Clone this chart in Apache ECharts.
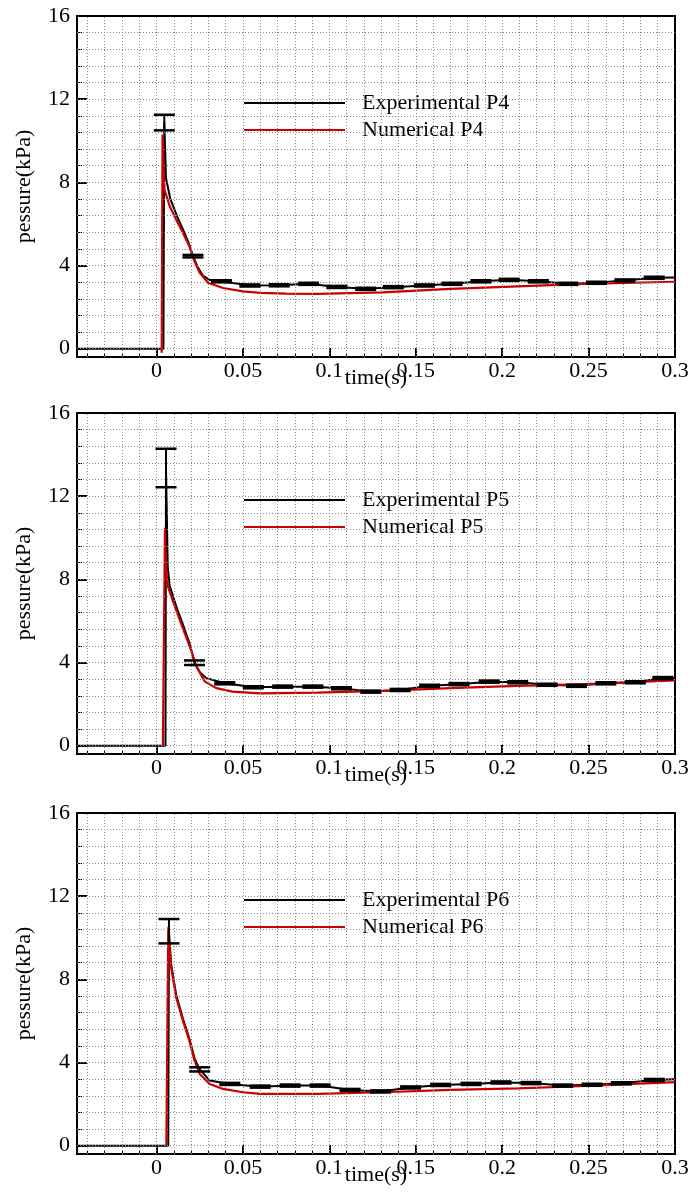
<!DOCTYPE html>
<html><head><meta charset="utf-8">
<script src="https://cdn.jsdelivr.net/npm/echarts@6/dist/echarts.min.js"></script>
<style>html,body{margin:0;padding:0;background:#fff}#c{width:693px;height:1192px}</style>
</head><body><div id="c"></div>
<script>
// ---------- axis / tick data ----------
const xMajor = [0, 0.05, 0.1, 0.15, 0.2, 0.25, 0.3];
const xMajorLabels = ['0', '0.05', '0.1', '0.15', '0.2', '0.25', '0.3'];
const yMajor = [0, 4, 8, 12, 16];
const yMajorLabels = ['0', '4', '8', '12', '16'];
const xGrid = [-0.04, -0.03, -0.02, -0.01, 0, 0.01, 0.02, 0.03, 0.04, 0.05, 0.06, 0.07, 0.08, 0.09, 0.1,
  0.11, 0.12, 0.13, 0.14, 0.15, 0.16, 0.17, 0.18, 0.19, 0.2, 0.21, 0.22, 0.23, 0.24, 0.25, 0.26, 0.27, 0.28, 0.29];
const yGrid = [0, 0.8, 1.6, 2.4, 3.2, 4, 4.8, 5.6, 6.4, 7.2, 8, 8.8, 9.6, 10.4, 11.2, 12, 12.8, 13.6, 14.4, 15.2];
const panelNames = ['P4', 'P5', 'P6'];

// ---------- P4 ----------
const p4ExpT = [-0.046, 0.0040, 0.0045, 0.0055, 0.008, 0.012, 0.016, 0.019, 0.0211, 0.024, 0.027, 0.031, 0.0376,
  0.054, 0.071, 0.088, 0.1044, 0.121, 0.137, 0.155, 0.171, 0.1877, 0.204, 0.221, 0.238, 0.2545, 0.271, 0.288, 0.3];
const p4ExpP = [0, 0, 10.9, 8.2, 7.2, 6.35, 5.6, 5.0, 4.45, 3.9, 3.5, 3.3, 3.24,
  3.04, 3.05, 3.12, 2.97, 2.88, 2.96, 3.04, 3.12, 3.24, 3.31, 3.24, 3.12, 3.17, 3.28, 3.41, 3.42];
const p4NumT = [0.0030, 0.0035, 0.0046, 0.0076, 0.0114, 0.0153, 0.019, 0.022, 0.025, 0.0298, 0.0385, 0.05, 0.06,
  0.075, 0.093, 0.131, 0.17, 0.209, 0.248, 0.3];
const p4NumP = [-0.2, 10.3, 7.66, 6.86, 6.2, 5.57, 4.93, 4.2, 3.65, 3.17, 2.92, 2.76, 2.68,
  2.65, 2.64, 2.71, 2.88, 3.0, 3.12, 3.22];
const p4ErrT = [0.0045, 0.0211, 0.0376, 0.054, 0.071, 0.088, 0.1044, 0.121, 0.137, 0.155, 0.171, 0.1877, 0.204, 0.221, 0.238, 0.2545, 0.271, 0.288];
const p4ErrLo = [10.5, 4.39, 3.19, 2.99, 3.0, 3.07, 2.92, 2.83, 2.91, 2.99, 3.07, 3.19, 3.26, 3.19, 3.07, 3.12, 3.23, 3.36];
const p4ErrHi = [11.25, 4.51, 3.29, 3.09, 3.1, 3.17, 3.02, 2.93, 3.01, 3.09, 3.17, 3.29, 3.36, 3.29, 3.17, 3.22, 3.33, 3.46];

// ---------- P5 ----------
const p5ExpT = [-0.046, 0.0052, 0.0055, 0.0065, 0.0076, 0.0114, 0.015, 0.019, 0.022, 0.025, 0.0288, 0.0395,
  0.056, 0.073, 0.0905, 0.107, 0.124, 0.141, 0.158, 0.175, 0.1925, 0.209, 0.226, 0.243, 0.26, 0.277, 0.293, 0.3];
const p5ExpP = [0, 0, 13.35, 8.6, 7.7, 6.7, 5.9, 4.95, 3.99, 3.55, 3.25, 3.0,
  2.81, 2.84, 2.84, 2.76, 2.6, 2.68, 2.88, 2.96, 3.08, 3.05, 2.93, 2.88, 3.0, 3.05, 3.25, 3.25];
const p5NumT = [0.0037, 0.0049, 0.0056, 0.0066, 0.0095, 0.015, 0.02, 0.023, 0.028, 0.0346, 0.044, 0.06,
  0.093, 0.131, 0.17, 0.209, 0.248, 0.3];
const p5NumP = [0, 10.48, 8.47, 7.66, 6.95, 5.7, 4.6, 3.81, 3.08, 2.77, 2.6, 2.52,
  2.55, 2.64, 2.77, 2.88, 2.96, 3.14];
const p5ErrT = [0.0055, 0.022, 0.0395, 0.056, 0.073, 0.0905, 0.107, 0.124, 0.141, 0.158, 0.175, 0.1925, 0.209, 0.226, 0.243, 0.26, 0.277, 0.293];
const p5ErrLo = [12.43, 3.88, 2.95, 2.76, 2.79, 2.79, 2.71, 2.55, 2.63, 2.83, 2.91, 3.03, 3.0, 2.88, 2.83, 2.95, 3.0, 3.2];
const p5ErrHi = [14.28, 4.1, 3.05, 2.86, 2.89, 2.89, 2.81, 2.65, 2.73, 2.93, 3.01, 3.13, 3.1, 2.98, 2.93, 3.05, 3.1, 3.3];

// ---------- P6 ----------
const p6ExpT = [-0.046, 0.0068, 0.0072, 0.0085, 0.0114, 0.0153, 0.019, 0.022, 0.025, 0.0308, 0.0424,
  0.06, 0.0773, 0.0947, 0.112, 0.1296, 0.147, 0.1644, 0.182, 0.1993, 0.2167, 0.235, 0.252, 0.269, 0.288, 0.3];
const p6ExpP = [0, 0, 10.3, 8.7, 7.25, 6.1, 5.15, 4.2, 3.67, 3.13, 2.97,
  2.84, 2.89, 2.89, 2.68, 2.61, 2.8, 2.92, 2.97, 3.04, 3.01, 2.89, 2.93, 3.0, 3.16, 3.2];
const p6NumT = [0.0057, 0.0068, 0.0075, 0.0085, 0.0114, 0.0153, 0.019, 0.022, 0.025, 0.0308, 0.0385, 0.05, 0.06,
  0.093, 0.131, 0.17, 0.209, 0.248, 0.3];
const p6NumP = [0, 10.5, 9.5, 8.57, 7.13, 6.0, 5.05, 4.09, 3.45, 2.97, 2.73, 2.57, 2.49,
  2.49, 2.57, 2.68, 2.76, 2.87, 3.06];
const p6ErrT = [0.0072, 0.025, 0.0424, 0.06, 0.0773, 0.0947, 0.112, 0.1296, 0.147, 0.1644, 0.182, 0.1993, 0.2167, 0.235, 0.252, 0.269, 0.288];
const p6ErrLo = [9.73, 3.57, 2.92, 2.79, 2.84, 2.84, 2.63, 2.56, 2.75, 2.87, 2.92, 2.99, 2.96, 2.84, 2.88, 2.95, 3.11];
const p6ErrHi = [10.9, 3.77, 3.02, 2.89, 2.94, 2.94, 2.73, 2.66, 2.85, 2.97, 3.02, 3.09, 3.06, 2.94, 2.98, 3.05, 3.21];

// ---------- chart construction ----------
const X_MIN = -0.046, X_MAX = 0.3, Y_MIN = -0.4, Y_MAX = 16;
const FONT = '"Liberation Serif", "Times New Roman", serif';
const tops = [16, 413, 813];
const panels = [
  {exp: [p4ExpT, p4ExpP], num: [p4NumT, p4NumP], err: [p4ErrT, p4ErrLo, p4ErrHi]},
  {exp: [p5ExpT, p5ExpP], num: [p5NumT, p5NumP], err: [p5ErrT, p5ErrLo, p5ErrHi]},
  {exp: [p6ExpT, p6ExpP], num: [p6NumT, p6NumP], err: [p6ErrT, p6ErrLo, p6ErrHi]}
];
const zip2 = (a, b) => a.map((v, i) => [v, b[i]]);
const zip3 = (a, b, c) => a.map((v, i) => [v, b[i], c[i]]);
const txt = {fontSize: 22, fontFamily: FONT, color: '#000'};

const grid = [], xAxis = [], yAxis = [], series = [], legend = [];
tops.forEach((top, i) => {
  grid.push({left: 77, width: 598, top: top, height: 341, show: true, borderColor: '#000', borderWidth: 2, backgroundColor: 'transparent'});
  xAxis.push({
    gridIndex: i, type: 'value', min: X_MIN, max: X_MAX, position: 'bottom',
    axisLine: {show: true, onZero: false, lineStyle: {color: '#000', width: 2}},
    axisTick: {show: true, inside: true, length: 9, customValues: xMajor, lineStyle: {color: '#000', width: 2}},
    axisLabel: Object.assign({customValues: xMajor, margin: 3,
      formatter: v => { const k = xMajor.findIndex(m => Math.abs(m - v) < 1e-9); return k >= 0 ? xMajorLabels[k] : ''; }}, txt),
    splitLine: {show: false},
    name: 'time(s)', nameLocation: 'middle', nameGap: 10, nameMoveOverlap: false, nameTextStyle: txt
  });
  xAxis.push({
    gridIndex: i, type: 'value', min: X_MIN, max: X_MAX, position: 'bottom', offset: 0,
    axisLine: {show: false, onZero: false},
    axisTick: {show: true, inside: true, length: 4, customValues: xGrid, lineStyle: {color: '#000', width: 1}},
    axisLabel: {show: false}, splitLine: {show: false}
  });
  yAxis.push({
    gridIndex: i, type: 'value', min: Y_MIN, max: Y_MAX, position: 'left',
    axisLine: {show: true, onZero: false, lineStyle: {color: '#000', width: 2}},
    axisTick: {show: true, inside: true, length: 10, customValues: yMajor, lineStyle: {color: '#000', width: 2}},
    axisLabel: Object.assign({customValues: yMajor, margin: 7,
      formatter: v => { const k = yMajor.findIndex(m => Math.abs(m - v) < 1e-9); return k >= 0 ? yMajorLabels[k] : ''; }}, txt),
    splitLine: {show: false},
    name: 'pessure(kPa)', nameLocation: 'middle', nameGap: 42, nameMoveOverlap: false, nameTextStyle: txt
  });
  yAxis.push({
    gridIndex: i, type: 'value', min: Y_MIN, max: Y_MAX, position: 'left', offset: 0,
    axisLine: {show: false, onZero: false},
    axisTick: {show: true, inside: true, length: 5, customValues: yGrid, lineStyle: {color: '#000', width: 1}},
    axisLabel: {show: false}, splitLine: {show: false}
  });

  const p = panels[i];
  const nm = panelNames[i];
  const xi = 2 * i, yi = 2 * i;
  // dotted grid
  series.push({
    type: 'line', name: 'grid' + i, xAxisIndex: xi, yAxisIndex: yi, data: [], silent: true, z: 1,
    markLine: {
      silent: true, symbol: ['none', 'none'], animation: false, label: {show: false},
      lineStyle: {color: '#8a8a8a', width: 1, type: [1, 2]},
      emphasis: {disabled: true},
      data: xGrid.map(v => ({xAxis: v})).concat(yGrid.map(v => ({yAxis: v})))
    }
  });
  series.push({
    type: 'line', name: 'Experimental ' + nm, xAxisIndex: xi, yAxisIndex: yi,
    data: zip2(p.exp[0], p.exp[1]), symbol: 'none', showSymbol: false, z: 3,
    lineStyle: {color: '#000', width: 2}, itemStyle: {color: '#000'}, emphasis: {disabled: true}
  });
  series.push({
    type: 'line', name: 'Numerical ' + nm, xAxisIndex: xi, yAxisIndex: yi,
    data: zip2(p.num[0], p.num[1]), symbol: 'none', showSymbol: false, z: 4,
    lineStyle: {color: '#cc0000', width: 2.2}, itemStyle: {color: '#cc0000'}, emphasis: {disabled: true}
  });
  series.push({
    type: 'custom', name: 'Error ' + nm, xAxisIndex: xi, yAxisIndex: yi, z: 5,
    data: zip3(p.err[0], p.err[1], p.err[2]),
    encode: {x: 0, y: [1, 2]},
    renderItem: (params, api) => {
      const t = api.value(0), lo = api.value(1), hi = api.value(2);
      const a = api.coord([t, lo]), b = api.coord([t, hi]);
      const hw = 10.5;
      const st = {stroke: '#000', lineWidth: 2.5};
      return {type: 'group', children: [
        {type: 'line', shape: {x1: a[0], y1: a[1], x2: b[0], y2: b[1]}, style: {stroke: '#000', lineWidth: 2}},
        {type: 'line', shape: {x1: a[0] - hw, y1: a[1], x2: a[0] + hw, y2: a[1]}, style: st},
        {type: 'line', shape: {x1: b[0] - hw, y1: b[1], x2: b[0] + hw, y2: b[1]}, style: st}
      ]};
    }
  });
  legend.push({
    orient: 'vertical', top: top + 76, left: 244, padding: 0,
    itemWidth: 101, itemHeight: 2, itemGap: 5, icon: 'rect', selectedMode: false,
    data: ['Experimental ' + nm, 'Numerical ' + nm],
    formatter: n => '{g|}' + n,
    textStyle: {fontSize: 22, fontFamily: FONT, color: '#000', lineHeight: 22, rich: {g: {width: 12, lineHeight: 22}}}
  });
});

const chart = echarts.init(document.getElementById('c'), null, {renderer: 'canvas'});
chart.setOption({animation: false, backgroundColor: '#fff', grid, xAxis, yAxis, legend, series});
</script>
</body></html>
